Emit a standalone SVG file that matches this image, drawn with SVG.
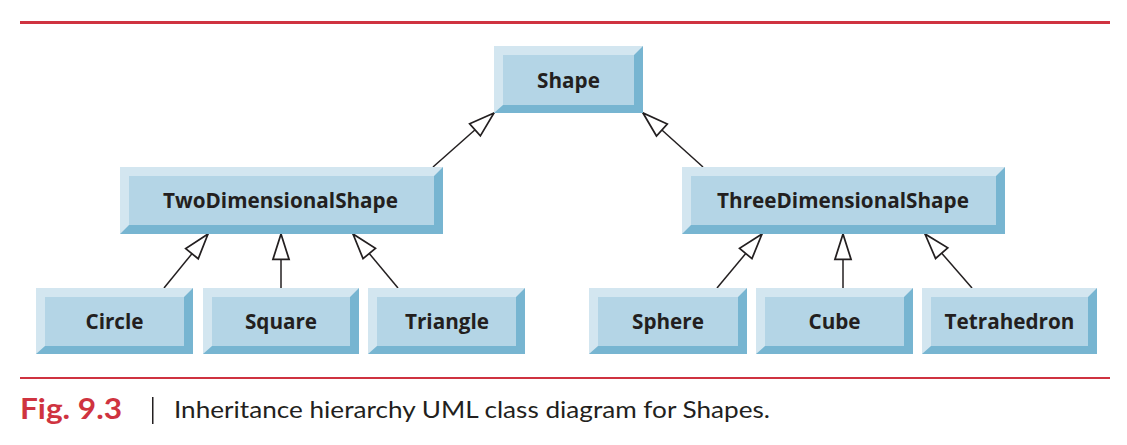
<svg xmlns="http://www.w3.org/2000/svg" width="1127" height="445" viewBox="0 0 1127 445">
<style>
.dark{fill:#77b5d1}
.light{fill:#d3e6f0}
.face{fill:#b4d5e6}
.lbl{font-family:"Open Sans","Noto Sans",sans-serif;font-weight:bold;font-size:20.7px;fill:#231f20;text-anchor:middle}
.conn{stroke:#231f20;stroke-width:1.5;fill:none;marker-end:url(#tri)}
.rule{fill:#cf3340}
</style>
<defs>
<marker id="tri" markerUnits="userSpaceOnUse" markerWidth="30" markerHeight="30" viewBox="-24 -10 26 20" refX="0" refY="0" orient="auto">
<path d="M0,0 L-22,-7 L-22,7 Z" fill="#fff" stroke="#231f20" stroke-width="1.5" stroke-linejoin="miter"/>
</marker>
</defs>
<rect class="rule" x="20" y="21" width="1090" height="3"/>
<rect class="rule" x="20" y="377" width="1090" height="2"/>

<g id="connectors">
<line class="conn" x1="433" y1="167" x2="494" y2="113"/>
<line class="conn" x1="703" y1="167" x2="643" y2="113"/>
<line class="conn" x1="164" y1="288" x2="208" y2="234"/>
<line class="conn" x1="281" y1="288" x2="281" y2="234"/>
<line class="conn" x1="398" y1="288" x2="353" y2="234"/>
<line class="conn" x1="717" y1="288" x2="762" y2="234"/>
<line class="conn" x1="843" y1="288" x2="843" y2="234"/>
<line class="conn" x1="972" y1="288" x2="925" y2="234"/>
</g>

<g id="Shape">
<rect class="dark" x="494" y="46" width="149" height="67"/>
<polygon class="light" points="494,46 643,46 634,55 503,55 503,105 494,113"/>
<rect class="face" x="503" y="55" width="131" height="50"/>
<text class="lbl" x="568.5" y="87.5">Shape</text>
</g>

<g id="TwoDimensionalShape">
<rect class="dark" x="120" y="167" width="323" height="67"/>
<polygon class="light" points="120,167 443,167 434,176 129,176 129,225 120,234"/>
<rect class="face" x="129" y="176" width="305" height="49"/>
<text class="lbl" x="280.5" y="208">TwoDimensionalShape</text>
</g>

<g id="ThreeDimensionalShape">
<rect class="dark" x="682" y="167" width="323" height="67"/>
<polygon class="light" points="682,167 1005,167 996,176 691,176 691,225 682,234"/>
<rect class="face" x="691" y="176" width="305" height="49"/>
<text class="lbl" x="843" y="208">ThreeDimensionalShape</text>
</g>

<g id="Circle">
<rect class="dark" x="36" y="288" width="157" height="66"/>
<polygon class="light" points="36,288 193,288 184,297 45,297 45,346 36,354"/>
<rect class="face" x="45" y="297" width="139" height="49"/>
<text class="lbl" x="114.5" y="329">Circle</text>
</g>

<g id="Square">
<rect class="dark" x="203" y="288" width="156" height="66"/>
<polygon class="light" points="203,288 359,288 350,297 212,297 212,346 203,354"/>
<rect class="face" x="212" y="297" width="138" height="49"/>
<text class="lbl" x="281" y="329">Square</text>
</g>

<g id="Triangle">
<rect class="dark" x="368" y="288" width="157" height="66"/>
<polygon class="light" points="368,288 525,288 516,297 377,297 377,346 368,354"/>
<rect class="face" x="377" y="297" width="139" height="49"/>
<text class="lbl" x="447" y="329">Triangle</text>
</g>

<g id="Sphere">
<rect class="dark" x="589" y="288" width="158" height="66"/>
<polygon class="light" points="589,288 747,288 738,297 598,297 598,346 589,354"/>
<rect class="face" x="598" y="297" width="140" height="49"/>
<text class="lbl" x="668" y="329">Sphere</text>
</g>

<g id="Cube">
<rect class="dark" x="756" y="288" width="157" height="66"/>
<polygon class="light" points="756,288 913,288 904,297 765,297 765,346 756,354"/>
<rect class="face" x="765" y="297" width="139" height="49"/>
<text class="lbl" x="834.5" y="329">Cube</text>
</g>

<g id="Tetrahedron">
<rect class="dark" x="922" y="288" width="175" height="66"/>
<polygon class="light" points="922,288 1097,288 1088,297 931,297 931,346 922,354"/>
<rect class="face" x="931" y="297" width="157" height="49"/>
<text class="lbl" x="1009.5" y="329">Tetrahedron</text>
</g>

<g id="caption" font-family="Lato,'Open Sans',sans-serif">
<text x="20" y="419" font-size="28" font-weight="bold" fill="#cf3340" textLength="102" lengthAdjust="spacingAndGlyphs">Fig. 9.3</text>
<rect x="152" y="397" width="1.5" height="27" fill="#231f20"/>
<text x="174" y="418" font-size="24" fill="#231f20" textLength="596" lengthAdjust="spacingAndGlyphs">Inheritance hierarchy UML class diagram for Shapes.</text>
</g>
</svg>
